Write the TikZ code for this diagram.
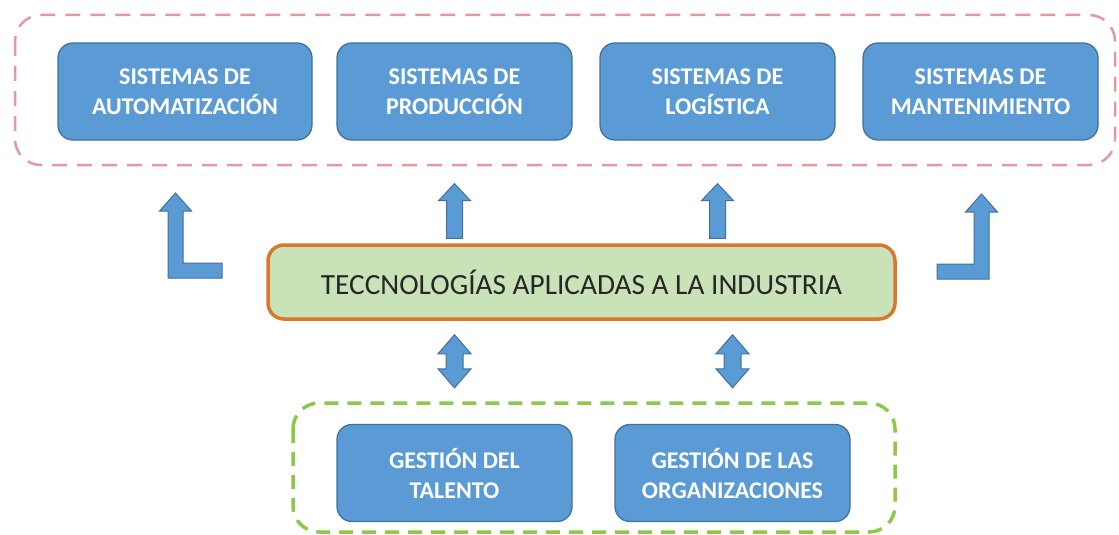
\documentclass[tikz,border=0pt]{standalone}
\usepackage{fontspec}
\setmainfont{Carlito}
\usetikzlibrary{calc}

\definecolor{boxblue}{HTML}{5B9BD5}
\definecolor{boxline}{HTML}{41719C}
\definecolor{tecgreen}{HTML}{C9E2B8}
\definecolor{tecorange}{HTML}{D9772F}
\definecolor{framered}{HTML}{E39A9E}
\definecolor{framegreen}{HTML}{8CC84B}

\tikzset{
  sysbox/.style={rectangle,rounded corners=15pt,draw=boxline,fill=boxblue,line width=1.3pt,
    text=white,align=center,inner sep=0pt,minimum width=235pt,minimum height=97pt,
    font=\fontsize{24}{30}\selectfont\bfseries},
  tecbox/.style={rectangle,rounded corners=16pt,draw=tecorange,fill=tecgreen,line width=3.5pt,
    text=black!85,inner sep=0pt,minimum width=627pt,minimum height=74pt,
    font=\fontsize{29.3}{34}\selectfont},
  fatarrow/.style={draw=boxline,fill=boxblue,line width=1pt,line join=miter},
  redframe/.style={draw=framered,line width=2.5pt,rounded corners=26pt,dash pattern=on 15pt off 10pt},
  greenframe/.style={draw=framegreen,line width=3.5pt,rounded corners=26pt,dash pattern=on 14pt off 9pt}
}

% block arrows: tail, tip
\newcommand{\fatup}[2]{
  \draw[fatarrow] let \p1=#1, \p2=#2 in
    (\x2-8pt,\y1) -- (\x2-8pt,\y2-17pt) -- (\x2-16pt,\y2-17pt) -- (\x2,\y2)
    -- (\x2+16pt,\y2-17pt) -- (\x2+8pt,\y2-17pt) -- (\x2+8pt,\y1) -- cycle;
}
\newcommand{\fatboth}[2]{
  \draw[fatarrow] let \p1=#1, \p2=#2 in
    (\x1,\y1) -- (\x1-16.5pt,\y1+19pt) -- (\x1-8.5pt,\y1+19pt) -- (\x1-8.5pt,\y2-19pt)
    -- (\x1-16.5pt,\y2-19pt) -- (\x1,\y2) -- (\x1+16.5pt,\y2-19pt) -- (\x1+8.5pt,\y2-19pt)
    -- (\x1+8.5pt,\y1+19pt) -- (\x1+16.5pt,\y1+19pt) -- cycle;
}
% bent arrow: tail, tip, side (1 = shaft left of tail, -1 = right)
\newcommand{\fatbend}[3]{
  \draw[fatarrow] let \p1=#1, \p2=#2 in
    (\x1,\y1+7.5pt) -- (\x2+#3*7.5pt,\y1+7.5pt) -- (\x2+#3*7.5pt,\y2-18pt)
    -- (\x2+#3*16pt,\y2-18pt) -- (\x2,\y2) -- (\x2-#3*16pt,\y2-18pt)
    -- (\x2-#3*7.5pt,\y2-18pt) -- (\x2-#3*7.5pt,\y1-7.5pt) -- (\x1,\y1-7.5pt) -- cycle;
}

\begin{document}
\begin{tikzpicture}[x=1pt,y=-1pt]
  \useasboundingbox (0,0) rectangle (1119,535);

  % frames
  \draw[redframe] (15,15) rectangle (1115,165);
  \draw[greenframe] (293,403) rectangle (895,532);

  % systems
  \node[sysbox,minimum width=254pt] (auto) at (185,91.5) {SISTEMAS DE\\AUTOMATIZACIÓN};
  \node[sysbox] (prod) at (454.5,91.5) {SISTEMAS DE\\PRODUCCIÓN};
  \node[sysbox] (logi) at (717.5,91.5) {SISTEMAS DE\\LOGÍSTICA};
  \node[sysbox] (mant) at (980.5,91.5) {SISTEMAS DE\\MANTENIMIENTO};

  \node[tecbox] (tec) at (581.5,282) {TECCNOLOGÍAS APLICADAS A LA INDUSTRIA};

  % management
  \node[sysbox] (talento) at (454.5,473) {GESTIÓN DEL\\TALENTO};
  \node[sysbox] (org) at (732.5,473) {GESTIÓN DE LAS\\ORGANIZACIONES};

  % arrows
  \coordinate (bendL) at (222,270.5);
  \coordinate (tipL) at (175.5,193);
  \coordinate (bendR) at (937,271.5);
  \coordinate (tipR) at (981.5,194);
  \fatbend{(bendL)}{(tipL)}{1}
  \fatbend{(bendR)}{(tipR)}{-1}
  \fatup{($(tec.north -| prod.south)+(0,-5)$)}{($(prod.south)+(0,43)$)}
  \fatup{($(tec.north -| logi.south)+(0,-5)$)}{($(logi.south)+(0,43)$)}
  \fatboth{($(talento.north)+(0,-36)$)}{($(tec.south -| talento.north)+(0,14)$)}
  \fatboth{($(org.north)+(0,-36)$)}{($(tec.south -| org.north)+(0,14)$)}
\end{tikzpicture}
\end{document}
